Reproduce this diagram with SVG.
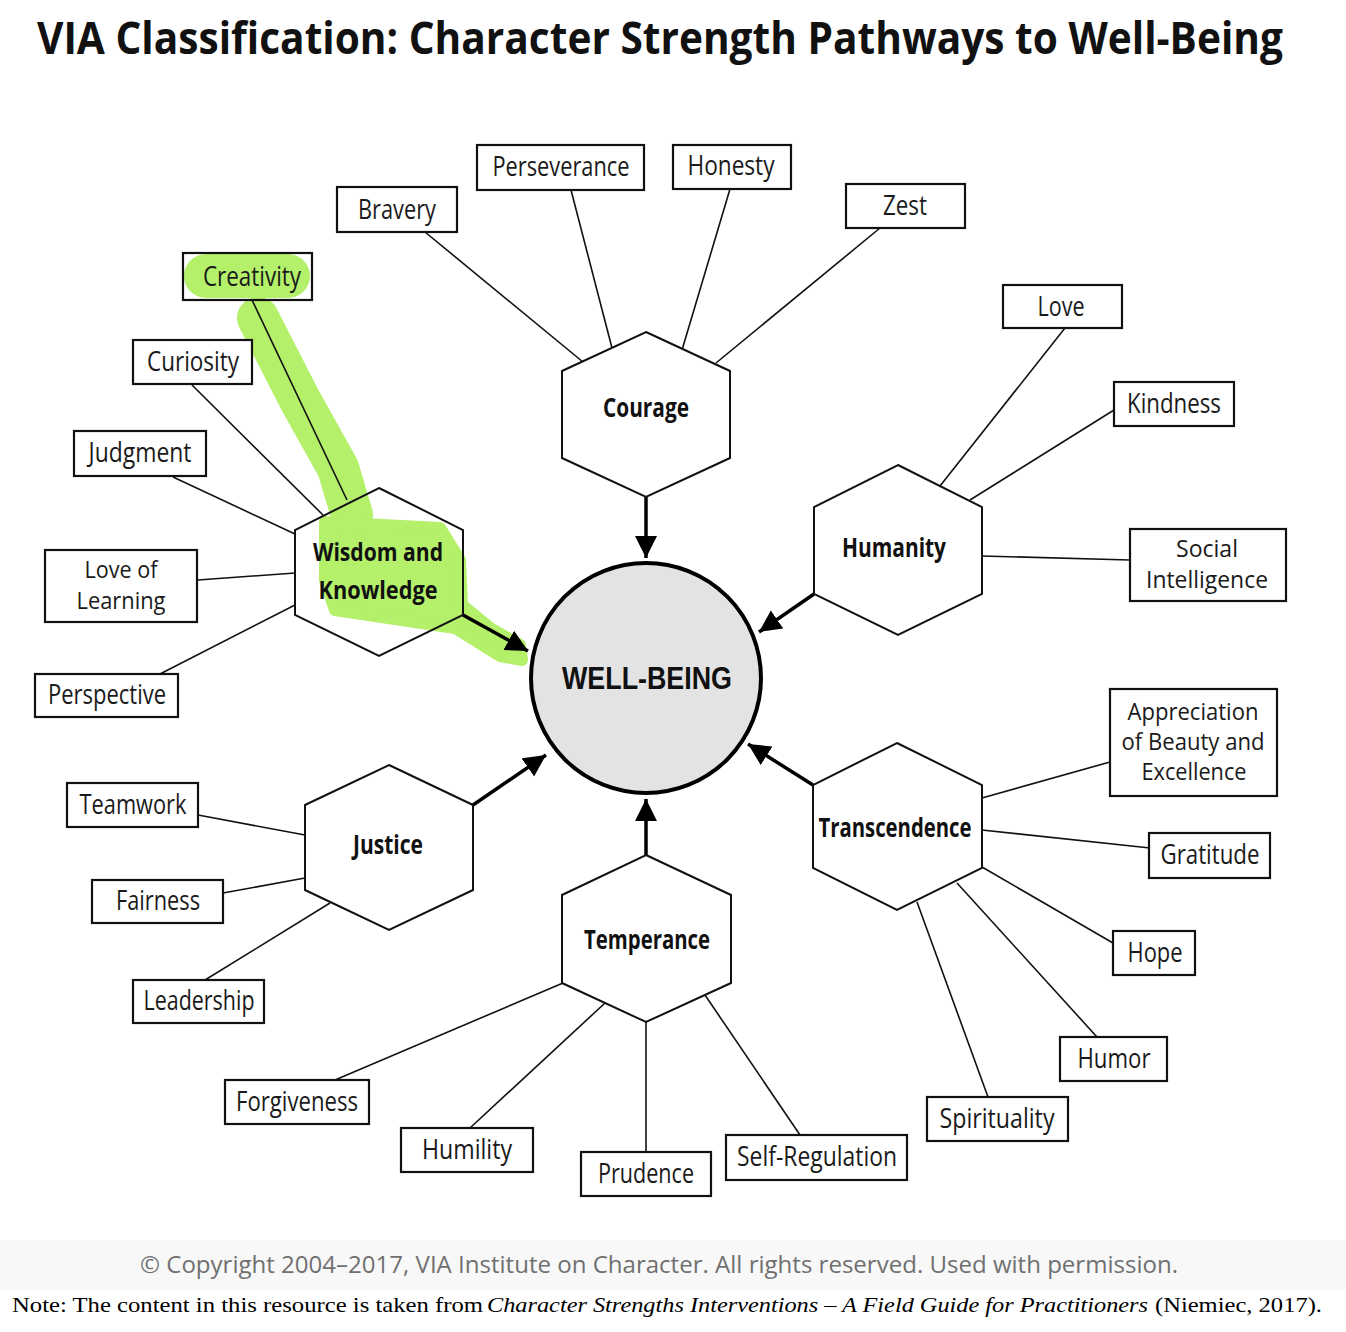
<svg xmlns="http://www.w3.org/2000/svg" width="1346" height="1332" viewBox="0 0 1346 1332">
<defs>
<marker id="ah" markerUnits="userSpaceOnUse" markerWidth="26" markerHeight="24" refX="22" refY="11" orient="auto">
<path d="M0,0 L22,11 L0,22 Z" fill="#000"/>
</marker>
</defs>
<style>
.box{fill:#fff;stroke:#111;stroke-width:2.2}
.hex{fill:#fff;stroke:#111;stroke-width:2}
.ln{stroke:#111;stroke-width:1.6;fill:none}
.ar{stroke:#000;stroke-width:3.5;fill:none;marker-end:url(#ah)}
.t{font-family:"Liberation Sans Narrow","Open Sans","Liberation Sans",sans-serif;font-size:27px;fill:#1a1a1a;text-anchor:middle}
.m{font-size:24px}
.h{font-family:"Liberation Sans Narrow","Open Sans","Liberation Sans",sans-serif;font-size:27px;font-weight:bold;fill:#111;text-anchor:middle}
.hm{font-size:25px}
</style>
<rect width="1346" height="1332" fill="#fff"/>
<rect x="0" y="1240" width="1346" height="50" fill="#f8f8f8"/>
<g id="title" transform="translate(37,54) scale(1,1.2)">
<text x="0" y="0" textLength="1246" lengthAdjust="spacingAndGlyphs" font-family="'Liberation Sans Narrow','Open Sans','Liberation Sans',sans-serif" font-size="37" font-weight="bold" fill="#111">VIA Classification: Character Strength Pathways to Well-Being</text>
</g>

<g id="highlight" fill="#b4f06a" stroke="#b4f06a" stroke-linejoin="round" stroke-linecap="round">
<rect x="184" y="254" width="126" height="44" rx="22" stroke="none"/>
<path d="M258,318 L300,400 L338,468 L352,515" fill="none" stroke-width="42"/>
<path d="M325,522 L440,528 L460,560 L462,605 L490,628 L520,645 L522,660 L500,656 L455,628 L335,610 L325,580 Z" stroke-width="12"/>
</g>

<g id="connectors">
<line class="ln" x1="252" y1="300" x2="347" y2="500"/>
<line class="ln" x1="192" y1="385" x2="323" y2="515"/>
<line class="ln" x1="173" y1="477" x2="295" y2="534"/>
<line class="ln" x1="198" y1="580" x2="295" y2="573"/>
<line class="ln" x1="160" y1="674" x2="295" y2="605"/>
<line class="ln" x1="425" y1="232" x2="583" y2="362"/>
<line class="ln" x1="571" y1="190" x2="612" y2="348"/>
<line class="ln" x1="730" y1="189" x2="682" y2="350"/>
<line class="ln" x1="880" y1="228" x2="716" y2="363"/>
<line class="ln" x1="1065" y1="328" x2="940" y2="486"/>
<line class="ln" x1="1114" y1="410" x2="970" y2="500"/>
<line class="ln" x1="982" y1="556" x2="1130" y2="560"/>
<line class="ln" x1="982" y1="798" x2="1110" y2="762"/>
<line class="ln" x1="982" y1="830" x2="1150" y2="848"/>
<line class="ln" x1="982" y1="867" x2="1113" y2="943"/>
<line class="ln" x1="957" y1="883" x2="1097" y2="1037"/>
<line class="ln" x1="917" y1="902" x2="988" y2="1097"/>
<line class="ln" x1="705" y1="995" x2="800" y2="1135"/>
<line class="ln" x1="646" y1="1022" x2="646" y2="1152"/>
<line class="ln" x1="605" y1="1003" x2="470" y2="1128"/>
<line class="ln" x1="563" y1="983" x2="335" y2="1080"/>
<line class="ln" x1="330" y1="903" x2="205" y2="980"/>
<line class="ln" x1="305" y1="878" x2="223" y2="893"/>
<line class="ln" x1="198" y1="815" x2="305" y2="835"/>
<line class="ar" x1="646" y1="497" x2="646" y2="558"/>
<line class="ar" x1="814" y1="594" x2="759" y2="632"/>
<line class="ar" x1="813" y1="785" x2="748" y2="744"/>
<line class="ar" x1="646" y1="855" x2="646" y2="799"/>
<line class="ar" x1="473" y1="805" x2="546" y2="755"/>
<line class="ar" x1="463" y1="615" x2="528" y2="651"/>
</g>

<g id="well-being">
<circle cx="646" cy="678" r="115" fill="#e3e3e3" stroke="#000" stroke-width="4"/>
<text x="647" y="689" textLength="170" lengthAdjust="spacingAndGlyphs" font-family="'Liberation Sans','Open Sans',sans-serif" font-size="31" font-weight="bold" fill="#111" text-anchor="middle">WELL-BEING</text>
</g>

<g id="courage"><polygon class="hex" points="646,332 730,371 730,458 646,497 562,458 562,371"/><text class="h" x="646" y="417" textLength="86" lengthAdjust="spacingAndGlyphs">Courage</text></g>
<g id="wisdom"><polygon class="hex" points="379,488 463,530 463,615 379,656 295,615 295,530" fill-opacity="0"/><text class="h hm" x="378" y="561" textLength="130" lengthAdjust="spacingAndGlyphs">Wisdom and</text><text class="h hm" x="378" y="599" textLength="119" lengthAdjust="spacingAndGlyphs">Knowledge</text></g>
<g id="humanity"><polygon class="hex" points="898,465 982,507 982,594 898,635 814,594 814,507"/><text class="h" x="894" y="557" textLength="104" lengthAdjust="spacingAndGlyphs">Humanity</text></g>
<g id="transcendence"><polygon class="hex" points="897,743 982,785 982,868 897,910 813,868 813,785"/><text class="h" x="895" y="837" textLength="153" lengthAdjust="spacingAndGlyphs">Transcendence</text></g>
<g id="justice"><polygon class="hex" points="389,765 473,805 473,890 389,930 305,890 305,805"/><text class="h" x="388" y="854" textLength="70" lengthAdjust="spacingAndGlyphs">Justice</text></g>
<g id="temperance"><polygon class="hex" points="646,855 731,895 731,983 646,1022 562,983 562,895"/><text class="h" x="647" y="949" textLength="126" lengthAdjust="spacingAndGlyphs">Temperance</text></g>

<g id="creativity"><rect class="box" x="183" y="253" width="129" height="47" style="fill:none"/><text class="t" x="252" y="286" textLength="98" lengthAdjust="spacingAndGlyphs">Creativity</text></g>
<g id="curiosity"><rect class="box" x="133" y="340" width="119" height="44"/><text class="t" x="193" y="371" textLength="92" lengthAdjust="spacingAndGlyphs">Curiosity</text></g>
<g id="judgment"><rect class="box" x="74" y="431" width="132" height="45"/><text class="t" x="140" y="462" textLength="103" lengthAdjust="spacingAndGlyphs">Judgment</text></g>
<g id="love-of-learning"><rect class="box" x="45" y="550" width="152" height="72"/><text class="t m" x="121" y="578" textLength="73" lengthAdjust="spacingAndGlyphs">Love of</text><text class="t m" x="121" y="609" textLength="89" lengthAdjust="spacingAndGlyphs">Learning</text></g>
<g id="perspective"><rect class="box" x="35" y="674" width="143" height="43"/><text class="t" x="107" y="704" textLength="118" lengthAdjust="spacingAndGlyphs">Perspective</text></g>
<g id="bravery"><rect class="box" x="337" y="187" width="120" height="45"/><text class="t" x="397" y="219" textLength="78" lengthAdjust="spacingAndGlyphs">Bravery</text></g>
<g id="perseverance"><rect class="box" x="477" y="145" width="167" height="45"/><text class="t" x="561" y="176" textLength="137" lengthAdjust="spacingAndGlyphs">Perseverance</text></g>
<g id="honesty"><rect class="box" x="673" y="145" width="118" height="44"/><text class="t" x="731" y="175" textLength="87" lengthAdjust="spacingAndGlyphs">Honesty</text></g>
<g id="zest"><rect class="box" x="846" y="184" width="119" height="44"/><text class="t" x="905" y="215" textLength="44" lengthAdjust="spacingAndGlyphs">Zest</text></g>
<g id="love"><rect class="box" x="1003" y="285" width="119" height="43"/><text class="t" x="1061" y="316" textLength="47" lengthAdjust="spacingAndGlyphs">Love</text></g>
<g id="kindness"><rect class="box" x="1114" y="382" width="120" height="44"/><text class="t" x="1174" y="413" textLength="94" lengthAdjust="spacingAndGlyphs">Kindness</text></g>
<g id="social-intelligence"><rect class="box" x="1130" y="529" width="156" height="72"/><text class="t m" x="1207" y="557" textLength="62" lengthAdjust="spacingAndGlyphs">Social</text><text class="t m" x="1207" y="588" textLength="122" lengthAdjust="spacingAndGlyphs">Intelligence</text></g>
<g id="appreciation"><rect class="box" x="1110" y="689" width="167" height="107"/><text class="t m" x="1193" y="720" textLength="131" lengthAdjust="spacingAndGlyphs">Appreciation</text><text class="t m" x="1193" y="750" textLength="143" lengthAdjust="spacingAndGlyphs">of Beauty and</text><text class="t m" x="1194" y="780" textLength="105" lengthAdjust="spacingAndGlyphs">Excellence</text></g>
<g id="gratitude"><rect class="box" x="1149" y="833" width="121" height="45"/><text class="t" x="1210" y="864" textLength="99" lengthAdjust="spacingAndGlyphs">Gratitude</text></g>
<g id="hope"><rect class="box" x="1113" y="931" width="82" height="44"/><text class="t" x="1155" y="962" textLength="55" lengthAdjust="spacingAndGlyphs">Hope</text></g>
<g id="humor"><rect class="box" x="1060" y="1037" width="107" height="44"/><text class="t" x="1114" y="1068" textLength="73" lengthAdjust="spacingAndGlyphs">Humor</text></g>
<g id="spirituality"><rect class="box" x="927" y="1097" width="141" height="44"/><text class="t" x="997" y="1128" textLength="115" lengthAdjust="spacingAndGlyphs">Spirituality</text></g>
<g id="self-regulation"><rect class="box" x="726" y="1135" width="181" height="45"/><text class="t" x="817" y="1166" textLength="160" lengthAdjust="spacingAndGlyphs">Self-Regulation</text></g>
<g id="prudence"><rect class="box" x="581" y="1152" width="130" height="44"/><text class="t" x="646" y="1183" textLength="96" lengthAdjust="spacingAndGlyphs">Prudence</text></g>
<g id="humility"><rect class="box" x="401" y="1128" width="132" height="44"/><text class="t" x="467" y="1159" textLength="90" lengthAdjust="spacingAndGlyphs">Humility</text></g>
<g id="forgiveness"><rect class="box" x="225" y="1080" width="144" height="44"/><text class="t" x="297" y="1111" textLength="122" lengthAdjust="spacingAndGlyphs">Forgiveness</text></g>
<g id="leadership"><rect class="box" x="133" y="980" width="131" height="43"/><text class="t" x="199" y="1010" textLength="111" lengthAdjust="spacingAndGlyphs">Leadership</text></g>
<g id="fairness"><rect class="box" x="92" y="880" width="131" height="43"/><text class="t" x="158" y="910" textLength="84" lengthAdjust="spacingAndGlyphs">Fairness</text></g>
<g id="teamwork"><rect class="box" x="67" y="783" width="131" height="44"/><text class="t" x="133" y="814" textLength="107" lengthAdjust="spacingAndGlyphs">Teamwork</text></g>

<text x="659" y="1273" text-anchor="middle" textLength="1038" lengthAdjust="spacingAndGlyphs" font-family="'Liberation Sans Narrow','Open Sans','Liberation Sans',sans-serif" font-size="24" fill="#707070">© Copyright 2004–2017, VIA Institute on Character. All rights reserved. Used with permission.</text>
<g font-family="'Liberation Serif','Times New Roman',serif" font-size="22" fill="#000">
<text x="12" y="1312" textLength="471" lengthAdjust="spacingAndGlyphs">Note: The content in this resource is taken from</text>
<text x="487" y="1312" textLength="661" lengthAdjust="spacingAndGlyphs" font-style="italic">Character Strengths Interventions – A Field Guide for Practitioners</text>
<text x="1155" y="1312" textLength="167" lengthAdjust="spacingAndGlyphs">(Niemiec, 2017).</text>
</g>
</svg>
